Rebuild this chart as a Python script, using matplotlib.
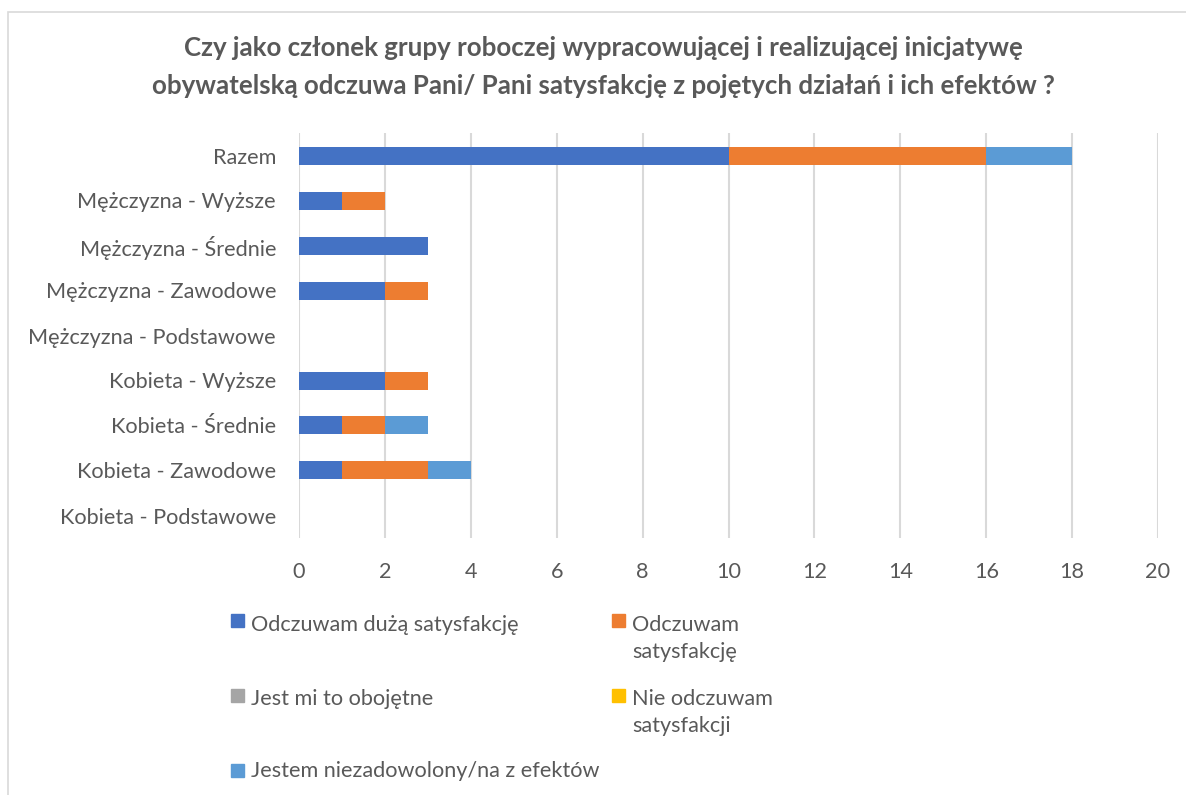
import numpy as np
import matplotlib.pyplot as plt
from matplotlib.patches import Rectangle

plt.rcParams['font.family'] = ['Lato', 'DejaVu Sans']

categories = ['Razem', 'Mężczyzna - Wyższe', 'Mężczyzna - Średnie', 'Mężczyzna - Zawodowe',
              'Mężczyzna - Podstawowe', 'Kobieta - Wyższe', 'Kobieta - Średnie',
              'Kobieta - Zawodowe', 'Kobieta - Podstawowe']
duza = [10, 1, 3, 2, 0, 2, 1, 1, 0]
satysf = [6, 1, 0, 1, 0, 1, 1, 2, 0]
obojetne = [0, 0, 0, 0, 0, 0, 0, 0, 0]
nie_odcz = [0, 0, 0, 0, 0, 0, 0, 0, 0]
niezadow = [2, 0, 0, 0, 0, 0, 1, 1, 0]

series = [duza, satysf, obojetne, nie_odcz, niezadow]
labels = ['Odczuwam dużą satysfakcję', 'Odczuwam\nsatysfakcję', 'Jest mi to obojętne',
          'Nie odczuwam\nsatysfakcji', 'Jestem niezadowolony/na z efektów']
colors = ['#4472C4', '#ED7D31', '#A5A5A5', '#FFC000', '#5B9BD5']
txt = '#595959'

W, H = 1186, 795
fig = plt.figure(figsize=(W / 100, H / 100), dpi=100)
ax = fig.add_axes([299 / W, 1 - 538 / H, (1158 - 299) / W, 405 / H])

y = np.arange(len(categories))
left = np.zeros(len(categories))
for vals, c in zip(series, colors):
    ax.barh(y, vals, left=left, height=0.4, color=c, zorder=3)
    left += np.array(vals)

ax.set_xlim(0, 20)
ax.set_ylim(len(categories) - 0.5, -0.5)
ax.set_xticks(range(0, 21, 2))
ax.set_yticks(y)
ax.set_yticklabels(categories)
ax.tick_params(length=0, labelsize=15.6, colors=txt)
ax.tick_params(axis='y', pad=16.5)
ax.tick_params(axis='x', pad=17)
ax.grid(axis='x', color='#D9D9D9', linewidth=1.5, zorder=0)
for s in ax.spines.values():
    s.set_visible(False)

fig.text(603 / W, 1 - 48 / H, 'Czy jako członek grupy roboczej wypracowującej i realizującej inicjatywę',
         ha='center', va='center', fontsize=18.6, fontweight='bold', color=txt)
fig.text(603 / W, 1 - 86 / H, 'obywatelską odczuwa Pani/ Pani satysfakcję z pojętych działań i ich efektów ?',
         ha='center', va='center', fontsize=18.6, fontweight='bold', color=txt)

# border of the chart area
fig.patches.append(Rectangle((8 / W, -0.1), 1.2, 1 - 12 / H + 0.1, transform=fig.transFigure,
                             fill=False, edgecolor='#D9D9D9', linewidth=1.2))

# legend drawn by hand (two columns, wrapped text); marker x, marker centre y, text baseline
pos = [(231, 620, 631), (612, 620, 631), (231, 695, 705), (612, 695, 705), (231, 770, 777)]
for (px, my, by), lab, c in zip(pos, labels, colors):
    fig.patches.append(Rectangle((px / W, 1 - (my + 6.5) / H), 13 / W, 13 / H,
                                 transform=fig.transFigure, color=c))
    for i, line in enumerate(lab.split('\n')):
        fig.text((px + 20) / W, 1 - (by + 27 * i) / H, line, ha='left', va='baseline',
                 fontsize=15.6, color=txt)

fig.savefig('out.png', dpi=100)
